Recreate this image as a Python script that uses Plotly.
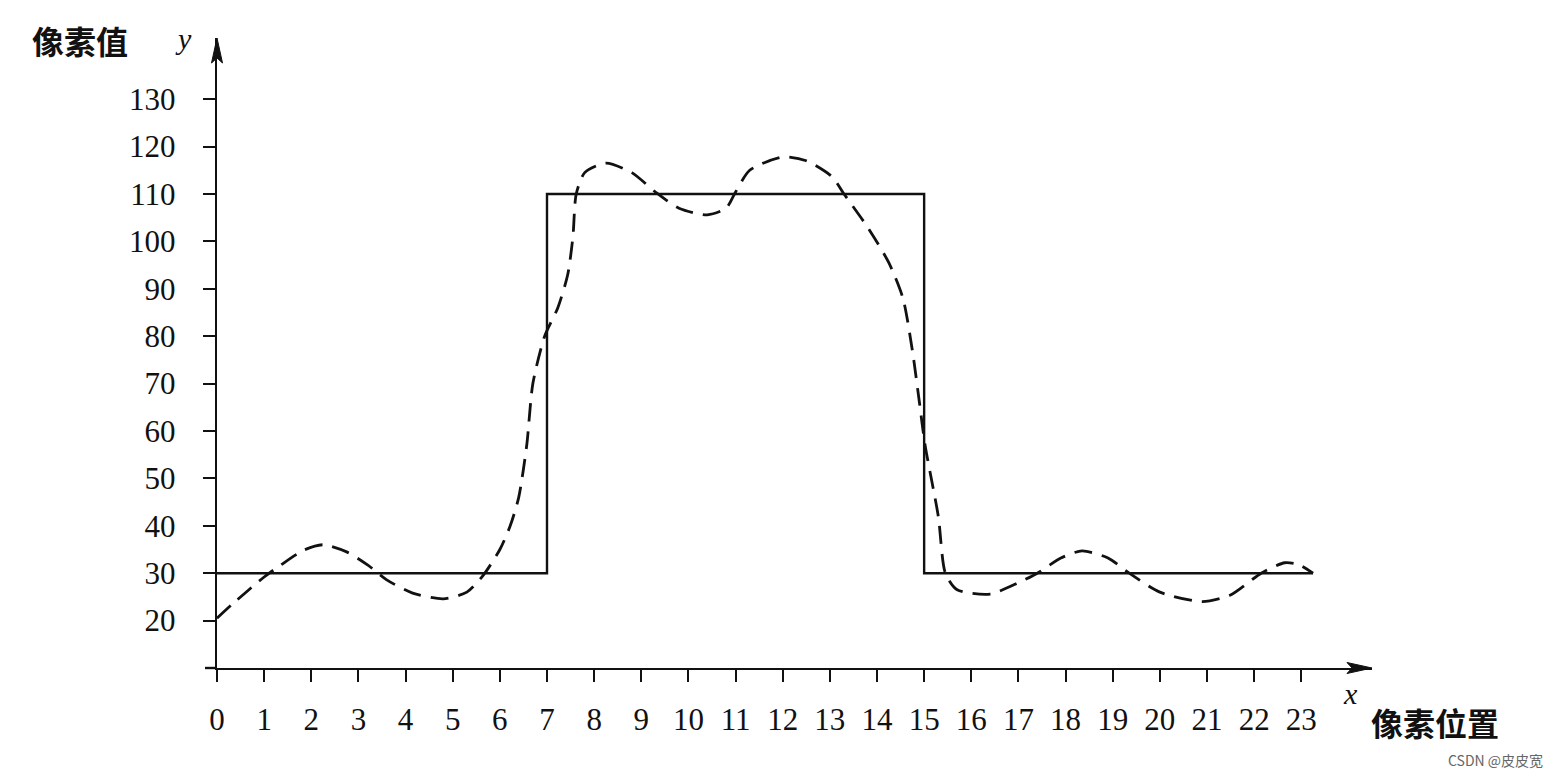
import plotly.graph_objects as go

# ---- data ----
step_x = [0, 7, 7, 15, 15, 23.25]
step_y = [30, 30, 110, 110, 30, 30]

curve_x = [0, 0.35, 1.0, 1.35, 1.85, 2.25, 2.75, 3.2, 3.6, 4.15, 4.8, 5.3, 5.65, 6.0,
           6.22, 6.4, 6.57, 6.7, 6.95, 7.23, 7.44, 7.55, 7.62, 7.8, 8.25, 8.8, 9.3,
           9.8, 10.4, 10.8, 11.0, 11.3, 12.0, 12.5, 13.05, 13.3, 13.8, 14.25, 14.55,
           14.75, 14.9, 15.02, 15.3, 15.45, 15.7, 16.4, 17.0, 17.4, 17.9, 18.35,
           18.9, 19.35, 20.0, 20.9, 21.5, 22.15, 22.65, 22.95, 23.25]
curve_y = [20.5, 23.7, 29.2, 31.7, 34.9, 36, 34.5, 31.7, 28.6, 25.8, 24.6, 26, 29.6, 35,
           40, 46, 57, 70, 80, 86, 93, 101, 110, 114.5, 116.5, 114.5, 110.4,
           107, 105.6, 107, 110.4, 115, 117.8, 117, 113.6, 110, 103, 95.5, 88,
           77, 66, 57, 42, 30, 26.5, 25.6, 28, 30, 33.2, 34.7,
           33.2, 30, 26, 24, 25.4, 30, 32.2, 31.8, 30]

x_ticks = list(range(0, 24))
y_ticks = [20, 30, 40, 50, 60, 70, 80, 90, 100, 110, 120, 130]

# ---- layout geometry (page body has an 8px margin) ----
OFF = 8
W, H = 1545, 762
ML, MR, MT, MB = 209, 181, 30, 102
PW, PH = W - ML - MR, H - MT - MB

def px_x(p):
    return (p - OFF - ML) / PW

def px_y(p):
    return (H - MB - (p - OFF)) / PH

ink = "#111111"
serif = "Liberation Serif"
cjk = "Noto Sans CJK SC"

fig = go.Figure()
fig.add_trace(go.Scatter(x=step_x, y=step_y, mode="lines",
                         line=dict(color=ink, width=2.4), hoverinfo="skip"))
fig.add_trace(go.Scatter(x=curve_x, y=curve_y, mode="lines",
                         line=dict(color=ink, width=2.8, dash="18px,10px",
                                   shape="spline", smoothing=0.7),
                         hoverinfo="skip"))

fig.update_layout(
    width=W, height=H,
    margin=dict(l=ML, r=MR, t=MT, b=MB),
    paper_bgcolor="white", plot_bgcolor="white",
    showlegend=False,
    xaxis=dict(range=[0, 24.5], tickvals=x_ticks, ticktext=[str(v) for v in x_ticks],
               showgrid=False, zeroline=False, showline=True, linecolor=ink, linewidth=2.4,
               ticks="outside", ticklen=12, tickwidth=2, tickcolor=ink,
               ticklabelstandoff=11,
               tickfont=dict(family=serif, size=31, color=ink)),
    yaxis=dict(range=[10, 142.9], tickvals=y_ticks, ticktext=[str(v) for v in y_ticks],
               showgrid=False, zeroline=False, showline=True, linecolor=ink, linewidth=2.4,
               ticks="outside", ticklen=12, tickwidth=2, tickcolor=ink,
               ticklabelstandoff=21,
               tickfont=dict(family=serif, size=31, color=ink)),
)

# left extension of x-axis line
fig.add_shape(type="line", xref="paper", yref="paper",
              x0=px_x(205), x1=0, y0=0, y1=0, line=dict(color=ink, width=2.4))

# narrow arrow heads (pixel-sized paths anchored at the axis ends)
fig.add_shape(type="path", xref="paper", yref="paper",
              xsizemode="pixel", ysizemode="pixel", xanchor=0, yanchor=1,
              path="M0,0 L-5.5,-25 L0,-20 L5.5,-25 Z",
              fillcolor=ink, line=dict(color=ink, width=1))
fig.add_shape(type="path", xref="paper", yref="paper",
              xsizemode="pixel", ysizemode="pixel", xanchor=1, yanchor=0,
              path="M0,0 L-25,5.5 L-20,0 L-25,-5.5 Z",
              fillcolor=ink, line=dict(color=ink, width=1))

def label(px, py, text, family, size, color=ink):
    fig.add_annotation(xref="paper", yref="paper", x=px_x(px), y=px_y(py),
                       xanchor="center", yanchor="middle",
                       text=text, showarrow=False,
                       font=dict(family=family, size=size, color=color))

# axis titles
label(80, 40, "<b>像素值</b>", cjk, 32)
label(183, 38, "<i>y</i>", serif, 30)
label(1350, 693, "<i>x</i>", serif, 30)
label(1435, 722, "<b>像素位置</b>", cjk, 32)
label(1495, 760, "CSDN @皮皮宽", cjk, 14, "#666666")

fig.write_html("out.html")
